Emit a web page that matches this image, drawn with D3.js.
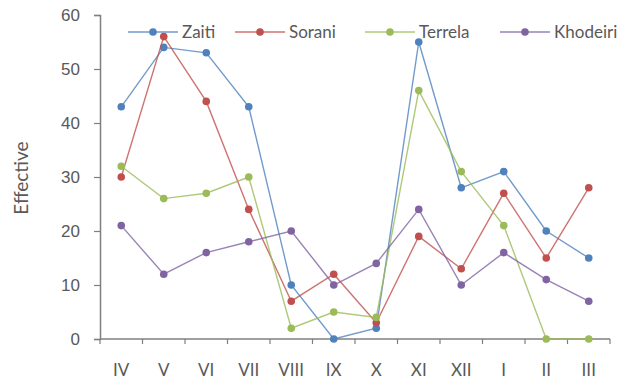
<!DOCTYPE html>
<html>
<head>
<meta charset="utf-8">
<script src="https://cdn.jsdelivr.net/npm/d3@7"></script>
<style>
  html, body { margin: 0; padding: 0; background: #fff; }
  svg { display: block; font-family: Lato, "Open Sans", sans-serif; }
</style>
</head>
<body>
<svg id="chart" width="630" height="381"></svg>
<script>
// Monthly counts per locality, April through March
const months = ["IV", "V", "VI", "VII", "VIII", "IX", "X", "XI", "XII", "I", "II", "III"];
const zaiti    = [43, 54, 53, 43, 10, 0, 2, 55, 28, 31, 20, 15];
const sorani   = [30, 56, 44, 24, 7, 12, 3, 19, 13, 27, 15, 28];
const terrela  = [32, 26, 27, 30, 2, 5, 4, 46, 31, 21, 0, 0];
const khodeiri = [21, 12, 16, 18, 20, 10, 14, 24, 10, 16, 11, 7];
const yTicks = [0, 10, 20, 30, 40, 50, 60];

const seriesNames  = ["Zaiti", "Sorani", "Terrela", "Khodeiri"];
const seriesValues = [zaiti, sorani, terrela, khodeiri];
const seriesColors = ["#4f81bd", "#c0504d", "#9bbb59", "#8064a2"];
const legendX = [128, 235, 365, 500];

const svg = d3.select("#chart");
const margin = { left: 100 };

const x = d3.scaleBand().domain(months).range([margin.left, 610]).padding(0);
const y = d3.scaleLinear().domain([0, 60]).range([339, 15]);

const textColor = "#595959";
const axisColor = "#7f7f7f";

// Y axis
const yAxis = svg.append("g")
  .attr("transform", `translate(${margin.left},0)`)
  .call(d3.axisLeft(y).tickValues(yTicks).tickSize(6).tickPadding(14));
yAxis.select(".domain").attr("stroke", axisColor).attr("stroke-width", 1.5);
yAxis.selectAll(".tick line").attr("stroke", axisColor).attr("stroke-width", 1.2);
yAxis.selectAll(".tick text").attr("fill", textColor).attr("font-size", 17);

// X axis: ticks at band boundaries, labels at band centres
const xAxisG = svg.append("g").attr("transform", `translate(0,${y(0)})`);
xAxisG.append("line")
  .attr("x1", margin.left).attr("x2", 610)
  .attr("stroke", axisColor).attr("stroke-width", 1.5);
const bounds = months.map(m => x(m)).concat([x(months[months.length - 1]) + x.bandwidth()]);
xAxisG.selectAll("line.tk").data(bounds).join("line")
  .attr("class", "tk")
  .attr("x1", d => d).attr("x2", d => d)
  .attr("y1", 0).attr("y2", 5)
  .attr("stroke", axisColor).attr("stroke-width", 1.2);
xAxisG.selectAll("text").data(months).join("text")
  .attr("x", d => x(d) + x.bandwidth() / 2)
  .attr("y", 37)
  .attr("text-anchor", "middle")
  .attr("fill", textColor)
  .attr("font-size", 17)
  .text(d => d);

// Y axis title
svg.append("text")
  .attr("transform", `translate(28,178) rotate(-90)`)
  .attr("text-anchor", "middle")
  .attr("fill", textColor)
  .attr("font-size", 19)
  .text("Effective");

// Series lines and markers
const line = d3.line()
  .x((d, i) => x(months[i]) + x.bandwidth() / 2)
  .y(d => y(d));

seriesValues.forEach((vals, s) => {
  const g = svg.append("g");
  g.append("path")
    .datum(vals)
    .attr("d", line)
    .attr("fill", "none")
    .attr("stroke", seriesColors[s])
    .attr("stroke-width", 1.4)
    .attr("stroke-opacity", 0.8);
  g.selectAll("circle").data(vals).join("circle")
    .attr("cx", (d, i) => x(months[i]) + x.bandwidth() / 2)
    .attr("cy", d => y(d))
    .attr("r", 3.8)
    .attr("fill", seriesColors[s]);
});

// Legend
const legend = svg.append("g").attr("transform", "translate(0,32)");
seriesNames.forEach((name, s) => {
  const lx = legendX[s];
  legend.append("line")
    .attr("x1", lx).attr("x2", lx + 50)
    .attr("stroke", seriesColors[s]).attr("stroke-width", 1.4)
    .attr("stroke-opacity", 0.8);
  legend.append("circle")
    .attr("cx", lx + 25).attr("r", 3.8)
    .attr("fill", seriesColors[s]);
  legend.append("text")
    .attr("x", lx + 54).attr("y", 6)
    .attr("fill", textColor)
    .attr("font-size", 17)
    .text(name);
});
</script>
</body>
</html>
